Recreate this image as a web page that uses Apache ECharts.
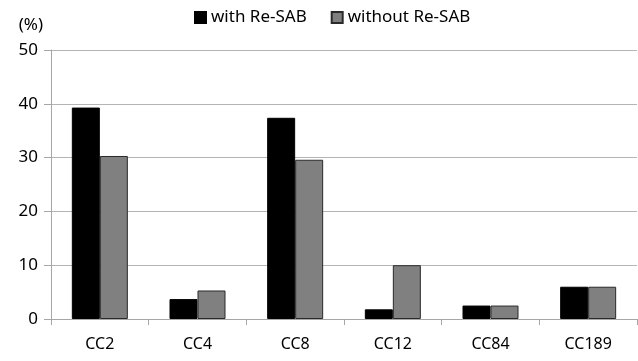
<!DOCTYPE html>
<html lang="en">
<head>
    <meta charset="UTF-8">
    <title>Re-SAB</title>
    <script src="https://cdn.jsdelivr.net/npm/echarts@6/dist/echarts.min.js"></script>
    <style>
        html, body { margin: 0; padding: 0; background: #fff; }
    </style>
</head>
<body>
<div id="chart" style="width: 638px; height: 361px;"></div>
<script>
    var categories = ['CC2', 'CC4', 'CC8', 'CC12', 'CC84', 'CC189'];
    var withReSAB = [39.3, 3.7, 37.4, 1.8, 2.5, 6.0];
    var withoutReSAB = [30.3, 5.3, 29.6, 10.0, 2.5, 6.0];

    var chart = echarts.init(document.getElementById('chart'));
    var font = 'Noto Sans';

    chart.setOption({
        animation: false,
        textStyle: { fontFamily: font },
        legend: {
            top: 4,
            left: 189,
            icon: 'rect',
            itemWidth: 11,
            itemHeight: 11,
            itemGap: 24,
            textStyle: { fontSize: 17, color: '#000', fontFamily: font },
            data: ['with Re-SAB', 'without Re-SAB']
        },
        grid: { left: 51, right: 1, top: 50, bottom: 42 },
        xAxis: {
            type: 'category',
            data: categories,
            axisLine: { lineStyle: { color: '#a6a6a6' } },
            axisTick: { show: true, length: 6, lineStyle: { color: '#a6a6a6' } },
            axisLabel: { fontSize: 16, color: '#000', margin: 17, fontFamily: font }
        },
        yAxis: {
            type: 'value',
            min: 0,
            max: 50,
            interval: 10,
            name: '(%)',
            nameLocation: 'end',
            nameGap: 16,
            nameTextStyle: { fontSize: 17, color: '#000', align: 'right', padding: [0, 8, 0, 0], fontFamily: font },
            axisLine: { show: true, lineStyle: { color: '#a6a6a6' } },
            axisTick: { show: true, length: 7, lineStyle: { color: '#a6a6a6' } },
            axisLabel: { fontSize: 17, color: '#000', margin: 13, fontFamily: font },
            splitLine: { lineStyle: { color: '#b4b4b4' } }
        },
        series: [{
            name: 'with Re-SAB',
            type: 'bar',
            data: withReSAB,
            barWidth: 28,
            barGap: '0%',
            itemStyle: { color: '#000', borderColor: '#000', borderWidth: 1 }
        }, {
            name: 'without Re-SAB',
            type: 'bar',
            data: withoutReSAB,
            barWidth: 28,
            barGap: '0%',
            itemStyle: { color: '#808080', borderColor: '#2a2a2a', borderWidth: 1 }
        }]
    });
</script>
</body>
</html>
